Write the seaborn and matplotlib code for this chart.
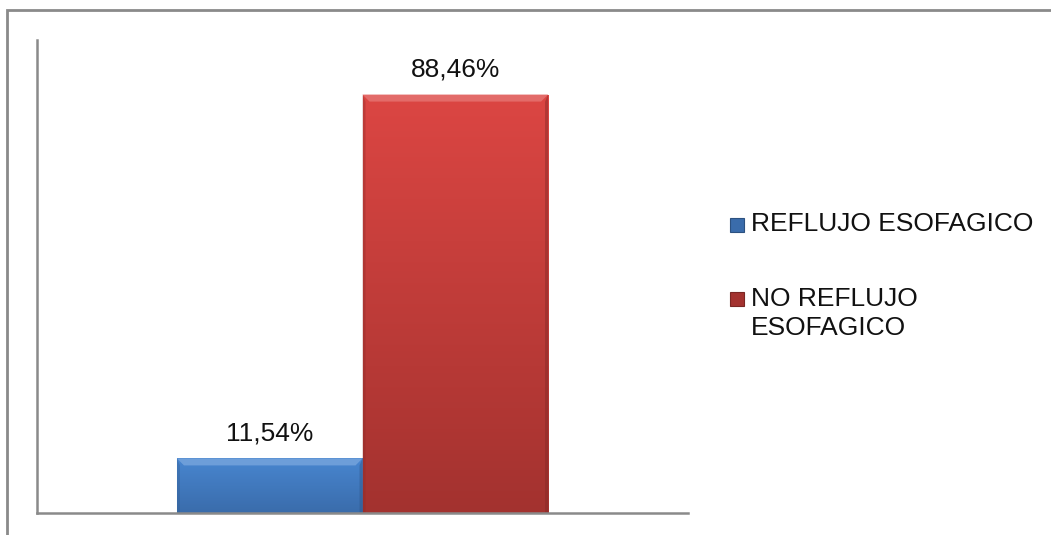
import numpy as np
import pandas as pd
import matplotlib
matplotlib.use("Agg")
import matplotlib.pyplot as plt
from matplotlib.patches import Rectangle, Polygon
from matplotlib.colors import to_rgb
import seaborn as sns

# Data
groups = ["REFLUJO ESOFAGICO", "NO REFLUJO ESOFAGICO"]
percent = [11.54, 88.46]
value_labels = ["11,54%", "88,46%"]
legend_lines = [["REFLUJO ESOFAGICO"], ["NO REFLUJO", "ESOFAGICO"]]

sns.set_theme(style="white")
plt.rcParams["font.family"] = ["Liberation Sans", "DejaVu Sans"]

W, H = 1051, 535
FS = 19
TEXT_COLOR = "#111111"

df = pd.DataFrame({"cat": [""] * len(groups), "grupo": groups, "pct": percent})
top_colors = ["#4886d0", "#dc4643"]
bottom_colors = ["#3a6cab", "#a3322f"]
palette = dict(zip(groups, top_colors))


def shade(c, f):
    rgb = np.array(to_rgb(c))
    if f >= 0:
        return tuple(rgb + (1 - rgb) * f)
    return tuple(rgb * (1 + f))


fig = plt.figure(figsize=(W / 100, H / 100), dpi=100)
ax = fig.add_axes([37 / W, (H - 513) / H, (688 - 37) / W, (513 - 40) / H])

sns.barplot(data=df, x="cat", y="pct", hue="grupo", hue_order=groups,
            palette=palette, width=0.57, ax=ax, saturation=1,
            edgecolor="none", linewidth=0, legend=False)
ax.set_xlim(-0.5, 0.5)
ax.set_ylim(0, 100)

# pixel sizes in data units
px_x = 1.0 / (688 - 37)
px_y = 100.0 / (513 - 40)

bars = sorted(ax.patches[:len(groups)], key=lambda p: p.get_x())
for patch, c_top, c_bot, val, lab in zip(bars, top_colors, bottom_colors,
                                          percent, value_labels):
    x0, y0 = patch.get_x(), patch.get_y()
    w, h = patch.get_width(), patch.get_height()
    x1, y1 = x0 + w, y0 + h
    z = patch.get_zorder()
    # vertical gradient fill clipped to the bar
    grad = np.linspace(0, 1, 256)[:, None, None]
    ct, cb = np.array(to_rgb(c_top)), np.array(to_rgb(c_bot))
    img = cb[None, None, :] * (1 - grad) + ct[None, None, :] * grad
    im = ax.imshow(img, extent=[x0, x1, y0, y1], origin="lower",
                   aspect="auto", zorder=z + 0.1, interpolation="bilinear")
    im.set_clip_path(patch)
    # bevelled edges: bright top, faint darker sides
    dx, dy = 7 * px_x, 7 * px_y
    sx = 3 * px_x
    bevels = [
        ([(x0, y1), (x1, y1), (x1 - dx, y1 - dy), (x0 + dx, y1 - dy)], shade(c_top, 0.2), 1.0),
        ([(x0, y0), (x0, y1), (x0 + sx, y1 - dy), (x0 + sx, y0)], shade(c_bot, -0.15), 0.35),
        ([(x1, y0), (x1, y1), (x1 - sx, y1 - dy), (x1 - sx, y0)], shade(c_bot, -0.2), 0.45),
    ]
    for pts, col, alpha in bevels:
        ax.add_patch(Polygon(pts, closed=True, facecolor=col, alpha=alpha,
                             lw=0, zorder=z + 0.2))
    # value label above the bar
    ax.text(x0 + w / 2, val + 25 * px_y, lab, ha="center", va="center",
            fontsize=FS, color=TEXT_COLOR)

ax.set_xlabel("")
ax.set_ylabel("")
ax.set_xticks([])
ax.set_yticks([])
for side in ["top", "right"]:
    ax.spines[side].set_visible(False)
for side in ["left", "bottom"]:
    ax.spines[side].set_color("#8a8a8a")
    ax.spines[side].set_linewidth(1.8)

# legend: square keys with labels on the right
key_tops = [218, 292]
line_centers = [[224], [299, 328]]
for color, top, lines, centers in zip(bottom_colors, key_tops, legend_lines, line_centers):
    fig.add_artist(Rectangle((730 / W, 1 - (top + 14) / H), 14 / W, 14 / H,
                             transform=fig.transFigure, facecolor=color,
                             edgecolor=shade(color, -0.25), linewidth=0.8))
    for line, cy in zip(lines, centers):
        fig.text(751 / W, 1 - cy / H, line, ha="left", va="center",
                 fontsize=FS, color=TEXT_COLOR)

# outer chart frame
fig.add_artist(Rectangle((7 / W, -0.1), 1.2, (H - 10) / H + 0.1,
                         transform=fig.transFigure, fill=False,
                         edgecolor="#8a8a8a", linewidth=2.0))

fig.savefig("out.png", dpi=100)
